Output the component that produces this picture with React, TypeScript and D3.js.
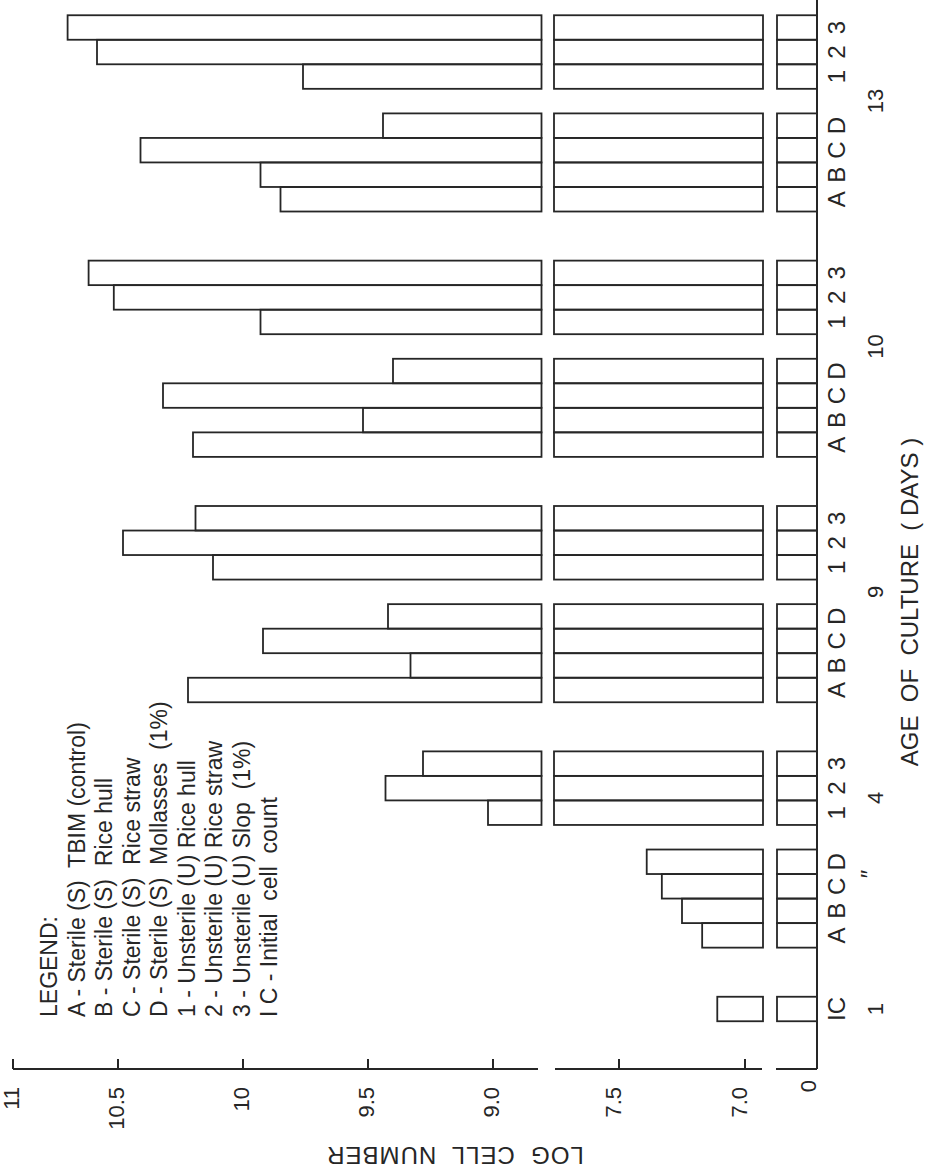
import React from "react";
import * as d3 from "d3";

// ---------- data ----------
const days = ["1", "4", "9", "10", "13"];
const initialCellCount = 7.11; // IC, day 1
// values for days 4, 9, 10, 13
const sterileTBIM = [7.17, 10.22, 10.2, 9.85]; // A
const sterileRiceHull = [7.25, 9.33, 9.52, 9.93]; // B
const sterileRiceStraw = [7.33, 9.92, 10.32, 10.41]; // C
const sterileMollasses = [7.39, 9.42, 9.4, 9.44]; // D
const unsterileRiceHull = [9.02, 10.12, 9.93, 9.76]; // 1
const unsterileRiceStraw = [9.43, 10.48, 10.52, 10.6]; // 2
const unsterileSlop = [9.28, 10.19, 10.64, 10.74]; // 3

const sterileKeys = ["A", "B", "C", "D"];
const unsterileKeys = ["1", "2", "3"];
const upperTicks = [11, 10.5, 10, 9.5, 9.0];
const upperTickLabels = ["11", "10.5", "10", "9.5", "9.0"];
const midTicks = [7.5, 7.0];
const midTickLabels = ["7.5", "7.0"];
const zeroTickLabel = "0";
const legendLines = [
  "LEGEND:",
  "A - Sterile (S)  TBIM (control)",
  "B - Sterile (S)  Rice hull",
  "C - Sterile (S)  Rice straw",
  "D - Sterile (S)  Mollasses  (1%)",
  "1 - Unsterile (U) Rice hull",
  "2 - Unsterile (U) Rice straw",
  "3 - Unsterile (U) Slop  (1%)",
  "I C - Initial  cell  count",
];
const xTitle = "AGE  OF  CULTURE  ( DAYS )";
const yTitle = "LOG  CELL  NUMBER";
const dittoMark = "\u2033";

// ---------- layout (chart drawn upright, then rotated) ----------
const W = 1173;
const FONT = "'Liberation Sans', Arial, Helvetica, sans-serif";
const INK = "#262626";

const slot = d3.scaleLinear().domain([0, 40]).range([164, 1145.5]);
const BW = 24.5;
const yUpper = d3.scaleLinear().domain([9, 10.5, 11]).range([493, 118, 13]);
const yMid = d3.scaleLinear().domain([7, 7.5]).range([745, 619]);
const UPPER_BOTTOM = 541.5;
const MID_TOP = 554;
const MID_BOTTOM = 763;
const LOW_TOP = 777;
const BASE = 817;
const AXIS_X = 104;

type Bar = { key: string; slotIndex: number; value: number };

function buildBars(): Bar[] {
  const bars: Bar[] = [{ key: "IC", slotIndex: 0, value: initialCellCount }];
  const sterile = [sterileTBIM, sterileRiceHull, sterileRiceStraw, sterileMollasses];
  const unsterile = [unsterileRiceHull, unsterileRiceStraw, unsterileSlop];
  for (let d = 0; d < 4; d++) {
    sterile.forEach((s, i) =>
      bars.push({ key: sterileKeys[i], slotIndex: 3 + 10 * d + i, value: s[d] })
    );
    unsterile.forEach((s, i) =>
      bars.push({ key: unsterileKeys[i], slotIndex: 8 + 10 * d + i, value: s[d] })
    );
  }
  return bars;
}

export default function App() {
  const bars = buildBars();
  const dayLabelSlots = [0, 8.6, 17, 27, 37];
  const stroke = { fill: "none", stroke: INK, strokeWidth: 1.8 };

  return (
    <svg
      width={935}
      height={1173}
      viewBox="0 0 935 1173"
      style={{ position: "absolute", left: 0, top: 0, background: "#fff" }}
    >
      <rect x={0} y={0} width={935} height={1173} fill="#fff" />
      <g transform={`translate(0,${W}) rotate(-90)`} fontFamily={FONT} fill={INK}>
        {/* bars in three broken segments */}
        {bars.map((b, i) => {
          const x = slot(b.slotIndex) - BW / 2;
          const midTop = Math.max(MID_TOP, yMid(b.value));
          const up = yUpper(b.value);
          return (
            <g key={i}>
              <rect x={x} y={LOW_TOP} width={BW} height={BASE - LOW_TOP} {...stroke} />
              <rect x={x} y={midTop} width={BW} height={MID_BOTTOM - midTop} {...stroke} />
              {up < UPPER_BOTTOM && (
                <rect x={x} y={up} width={BW} height={UPPER_BOTTOM - up} {...stroke} />
              )}
            </g>
          );
        })}

        {/* baseline (category axis) */}
        <line x1={AXIS_X} x2={W} y1={BASE} y2={BASE} stroke={INK} strokeWidth={2} />

        {/* value axis with breaks */}
        <line x1={AXIS_X} x2={AXIS_X} y1={yUpper(11)} y2={538} stroke={INK} strokeWidth={2} />
        <line x1={AXIS_X} x2={AXIS_X} y1={555} y2={762} stroke={INK} strokeWidth={2} />
        <line x1={AXIS_X} x2={AXIS_X} y1={776} y2={BASE} stroke={INK} strokeWidth={2} />
        {upperTicks.map((t, i) => (
          <g key={"u" + i}>
            <line x1={AXIS_X} x2={AXIS_X + 10} y1={yUpper(t)} y2={yUpper(t)} stroke={INK} strokeWidth={2} />
            <text x={86} y={yUpper(t)} textAnchor="end" dominantBaseline="middle" fontSize={22}>
              {upperTickLabels[i]}
            </text>
          </g>
        ))}
        {midTicks.map((t, i) => (
          <g key={"m" + i}>
            <line x1={AXIS_X} x2={AXIS_X + 10} y1={yMid(t)} y2={yMid(t)} stroke={INK} strokeWidth={2} />
            <text x={86} y={yMid(t) - 4} textAnchor="end" dominantBaseline="middle" fontSize={22}>
              {midTickLabels[i]}
            </text>
          </g>
        ))}
        <text x={93} y={BASE - 7} textAnchor="end" dominantBaseline="middle" fontSize={22}>
          {zeroTickLabel}
        </text>

        {/* y title */}
        <text
          transform={`translate(26,455) rotate(-90)`}
          textAnchor="middle"
          fontSize={24}
          letterSpacing={1}
          style={{ whiteSpace: "pre" }}
        >
          {yTitle}
        </text>

        {/* category labels */}
        {bars.map((b, i) => (
          <text key={"c" + i} x={slot(b.slotIndex)} y={845} textAnchor="middle" fontSize={24}>
            {b.key}
          </text>
        ))}

        {/* day labels */}
        {days.map((d, i) => (
          <text key={"d" + i} x={slot(dayLabelSlots[i])} y={883} textAnchor="middle" fontSize={22}>
            {d}
          </text>
        ))}
        <text x={slot(5.5)} y={878} textAnchor="middle" fontSize={24}>
          {dittoMark}
        </text>

        {/* x title */}
        <text x={571} y={918} textAnchor="middle" fontSize={24} style={{ whiteSpace: "pre" }}>
          {xTitle}
        </text>

        {/* legend */}
        {legendLines.map((l, i) => (
          <text key={"l" + i} x={156} y={57 + 27.5 * i} fontSize={23} style={{ whiteSpace: "pre" }}>
            {l}
          </text>
        ))}
      </g>
    </svg>
  );
}
